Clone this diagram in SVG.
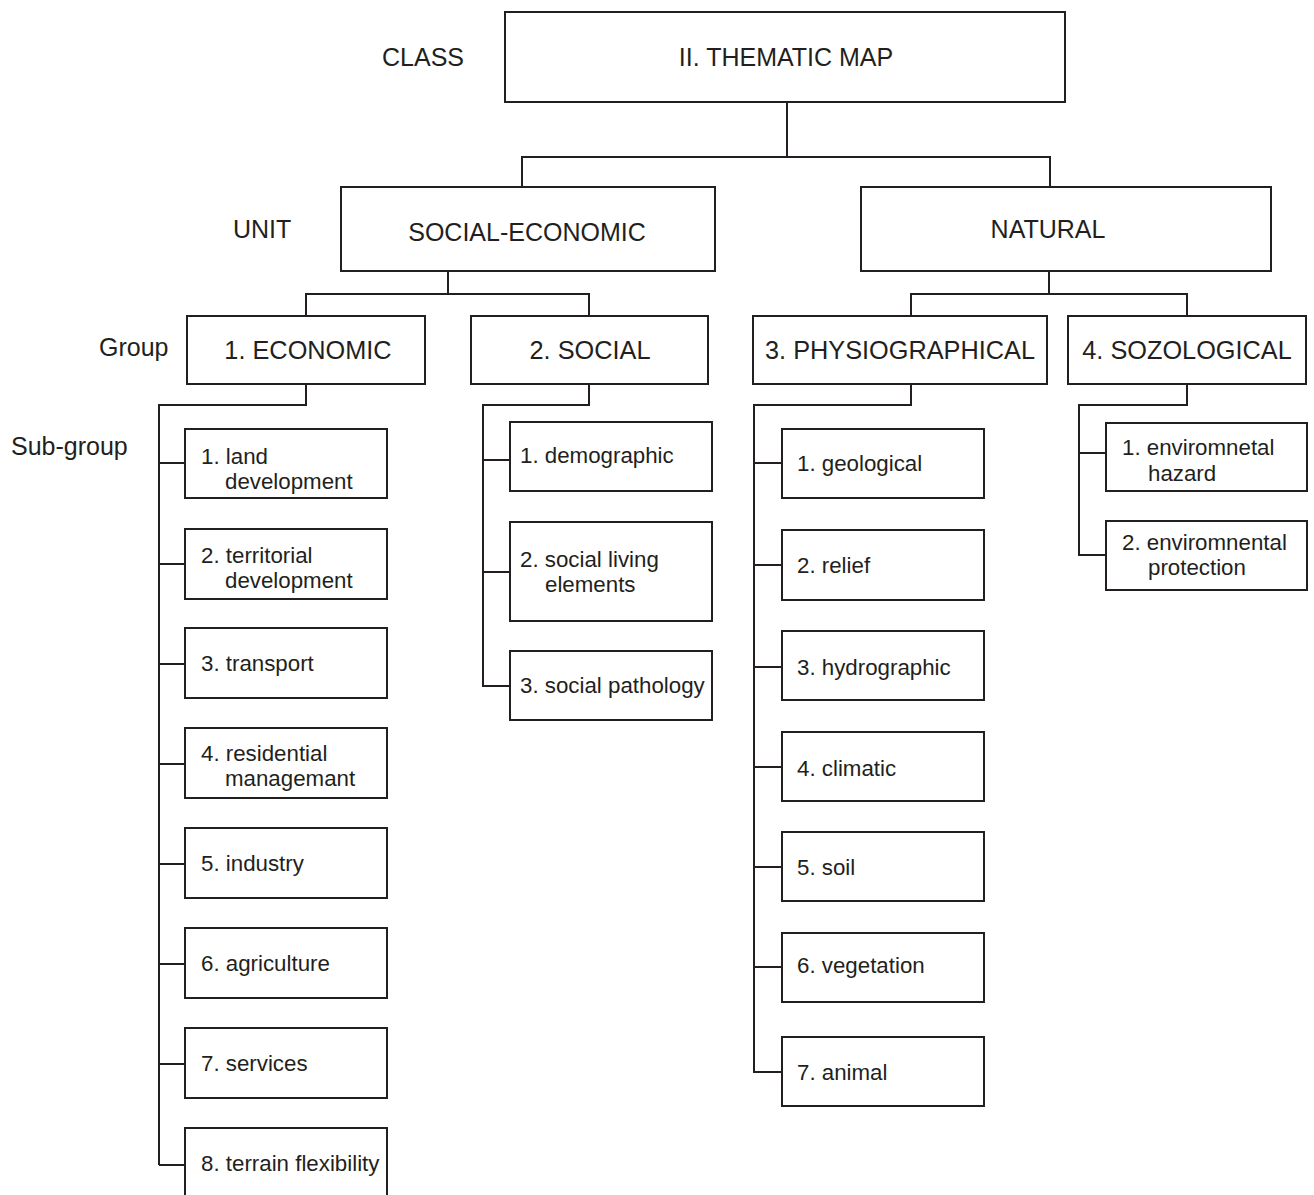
<svg xmlns="http://www.w3.org/2000/svg" width="1314" height="1195" viewBox="0 0 1314 1195">
  <style>
    .box { fill: #ffffff; stroke: #231f20; stroke-width: 2; }
    .wire { fill: none; stroke: #231f20; stroke-width: 2; }
    text { font-family: "Liberation Sans", Arial, sans-serif; fill: #231f20; }
    .big { font-size: 25px; }
    .mid { font-size: 25.3px; }
    .sm { font-size: 22.3px; }
    .c { text-anchor: middle; }
  </style>
  <rect width="1314" height="1195" fill="#ffffff"/>

  <!-- level captions -->
  <g id="captions">
    <text class="big" x="382" y="66">CLASS</text>
    <text class="big" x="233" y="238">UNIT</text>
    <text class="big" x="99" y="356">Group</text>
    <text class="big" x="11" y="455">Sub-group</text>
  </g>

  <!-- connectors -->
  <g id="connectors">
    <path class="wire" d="M787 102 V157 M522 187 V157 H1050 V187"/>
    <path class="wire" d="M448 271 V294 M306 316 V294 H589 V316"/>
    <path class="wire" d="M1049 271 V294 M911 316 V294 H1187 V316"/>
    <!-- economic -->
    <path class="wire" d="M306 384 V405 H159 V1165 M159 463 H185 M159 564 H185 M159 664 H185 M159 764 H185 M159 864 H185 M159 964 H185 M159 1064 H185 M159 1165 H185"/>
    <!-- social -->
    <path class="wire" d="M589 384 V405 H483 V686 H510 M483 460 H510 M483 572 H510"/>
    <!-- physiographical -->
    <path class="wire" d="M911 384 V405 H754 V1072 H782 M754 463 H782 M754 565 H782 M754 667 H782 M754 767 H782 M754 867 H782 M754 967 H782"/>
    <!-- sozological -->
    <path class="wire" d="M1187 384 V405 H1079 V555 H1106 M1079 453 H1106"/>
  </g>

  <g id="thematic-map">
    <rect class="box" x="505" y="12" width="560" height="90"/>
    <text class="big c" x="786" y="66">II. THEMATIC MAP</text>
  </g>
  <g id="social-economic">
    <rect class="box" x="341" y="187" width="374" height="84"/>
    <text class="big c" x="527" y="241">SOCIAL-ECONOMIC</text>
  </g>
  <g id="natural">
    <rect class="box" x="861" y="187" width="410" height="84"/>
    <text class="big c" x="1048" y="238">NATURAL</text>
  </g>

  <g id="economic">
    <rect class="box" x="187" y="316" width="238" height="68"/>
    <text class="mid c" x="308" y="359">1. ECONOMIC</text>
  </g>
  <g id="social">
    <rect class="box" x="471" y="316" width="237" height="68"/>
    <text class="mid c" x="590" y="359">2. SOCIAL</text>
  </g>
  <g id="physiographical">
    <rect class="box" x="753" y="316" width="294" height="68"/>
    <text class="mid c" x="900" y="359">3. PHYSIOGRAPHICAL</text>
  </g>
  <g id="sozological">
    <rect class="box" x="1068" y="316" width="238" height="68"/>
    <text class="mid c" x="1187" y="359">4. SOZOLOGICAL</text>
  </g>

  <!-- economic sub-groups -->
  <g id="eco-1"><rect class="box" x="185" y="429" width="202" height="69"/><text class="sm" x="201" y="464">1. land</text><text class="sm" x="225" y="489">development</text></g>
  <g id="eco-2"><rect class="box" x="185" y="529" width="202" height="70"/><text class="sm" x="201" y="563">2. territorial</text><text class="sm" x="225" y="588">development</text></g>
  <g id="eco-3"><rect class="box" x="185" y="628" width="202" height="70"/><text class="sm" x="201" y="671">3. transport</text></g>
  <g id="eco-4"><rect class="box" x="185" y="728" width="202" height="70"/><text class="sm" x="201" y="761">4. residential</text><text class="sm" x="225" y="786">managemant</text></g>
  <g id="eco-5"><rect class="box" x="185" y="828" width="202" height="70"/><text class="sm" x="201" y="871">5. industry</text></g>
  <g id="eco-6"><rect class="box" x="185" y="928" width="202" height="70"/><text class="sm" x="201" y="971">6. agriculture</text></g>
  <g id="eco-7"><rect class="box" x="185" y="1028" width="202" height="70"/><text class="sm" x="201" y="1071">7. services</text></g>
  <g id="eco-8"><rect class="box" x="185" y="1128" width="202" height="80"/><text class="sm" x="201" y="1171">8. terrain flexibility</text></g>

  <!-- social sub-groups -->
  <g id="soc-1"><rect class="box" x="510" y="422" width="202" height="69"/><text class="sm" x="520" y="463">1. demographic</text></g>
  <g id="soc-2"><rect class="box" x="510" y="522" width="202" height="99"/><text class="sm" x="520" y="567">2. social living</text><text class="sm" x="545" y="592">elements</text></g>
  <g id="soc-3"><rect class="box" x="510" y="651" width="202" height="69"/><text class="sm" x="520" y="693">3. social pathology</text></g>

  <!-- physiographical sub-groups -->
  <g id="phy-1"><rect class="box" x="782" y="429" width="202" height="69"/><text class="sm" x="797" y="471">1. geological</text></g>
  <g id="phy-2"><rect class="box" x="782" y="530" width="202" height="70"/><text class="sm" x="797" y="573">2. relief</text></g>
  <g id="phy-3"><rect class="box" x="782" y="631" width="202" height="69"/><text class="sm" x="797" y="675">3. hydrographic</text></g>
  <g id="phy-4"><rect class="box" x="782" y="732" width="202" height="69"/><text class="sm" x="797" y="776">4. climatic</text></g>
  <g id="phy-5"><rect class="box" x="782" y="832" width="202" height="69"/><text class="sm" x="797" y="875">5. soil</text></g>
  <g id="phy-6"><rect class="box" x="782" y="933" width="202" height="69"/><text class="sm" x="797" y="973">6. vegetation</text></g>
  <g id="phy-7"><rect class="box" x="782" y="1037" width="202" height="69"/><text class="sm" x="797" y="1080">7. animal</text></g>

  <!-- sozological sub-groups -->
  <g id="soz-1"><rect class="box" x="1106" y="423" width="201" height="68"/><text class="sm" x="1122" y="455">1. enviromnetal</text><text class="sm" x="1148" y="481">hazard</text></g>
  <g id="soz-2"><rect class="box" x="1106" y="521" width="201" height="69"/><text class="sm" x="1122" y="550">2. enviromnental</text><text class="sm" x="1148" y="575">protection</text></g>
</svg>
